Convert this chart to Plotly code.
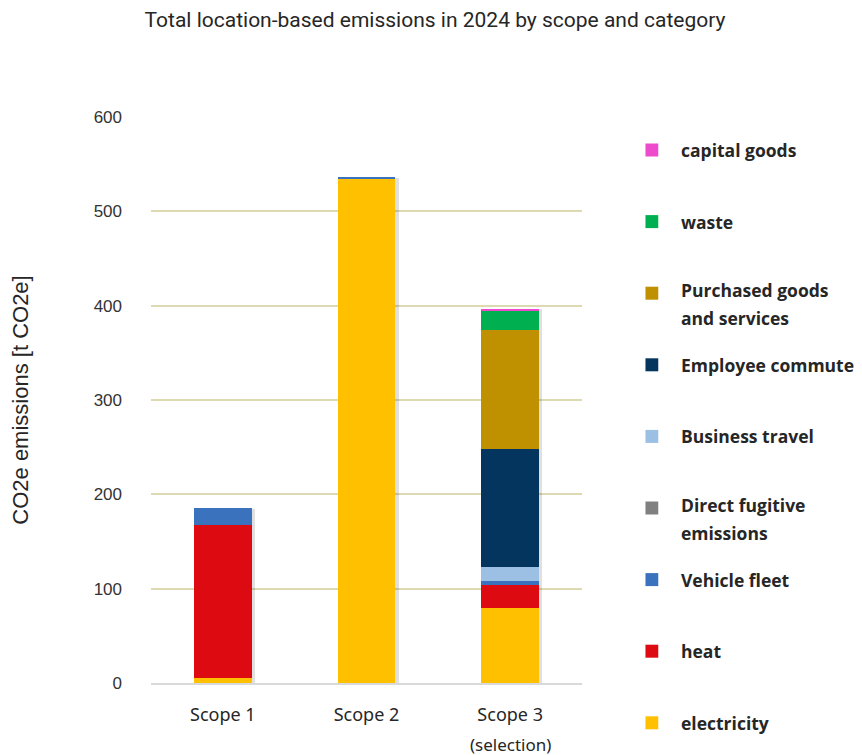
import plotly.graph_objects as go

categories = ["Scope 1", "Scope 2", "Scope 3"]

# stacked series (bottom to top)
series_names = [
    "electricity",
    "heat",
    "Vehicle fleet",
    "Direct fugitive emissions",
    "Business travel",
    "Employee commute",
    "Purchased goods and services",
    "waste",
    "capital goods",
]
legend_labels = [
    ["electricity"],
    ["heat"],
    ["Vehicle fleet"],
    ["Direct fugitive", "emissions"],
    ["Business travel"],
    ["Employee commute"],
    ["Purchased goods", "and services"],
    ["waste"],
    ["capital goods"],
]
series_colors = [
    "#FFC000", "#DD0A12", "#3A72BE", "#808080", "#9CBFE4",
    "#04355F", "#BF9000", "#00B050", "#EE4ACC",
]
electricity = [5, 535, 80]
heat = [163, 0, 24]
vehicle_fleet = [17, 1.5, 4]
direct_fugitive = [0, 0, 0]
business_travel = [0, 0, 15]
employee_commute = [0, 0, 125]
purchased_goods = [0, 0, 126]
waste = [0, 0, 20]
capital_goods = [0, 0, 3]
series_values = [electricity, heat, vehicle_fleet, direct_fugitive, business_travel,
                 employee_commute, purchased_goods, waste, capital_goods]

totals = [sum(v[i] for v in series_values) for i in range(len(categories))]

y_ticks = [0, 100, 200, 300, 400, 500, 600]

fig = go.Figure()

# soft shadow behind bars (main axes)
fig.add_trace(go.Bar(
    x=categories, y=[t + 1 for t in totals], base=-2,
    width=0.4, offset=-0.2 + 0.025,
    marker=dict(color="rgba(0,0,0,0.12)", line=dict(width=0)),
    hoverinfo="skip", showlegend=False, xaxis="x", yaxis="y",
))

for name, vals, col in zip(series_names, series_values, series_colors):
    fig.add_trace(go.Bar(
        x=categories, y=vals, name=name, width=0.4,
        marker=dict(color=col, line=dict(width=0)),
        xaxis="x2", yaxis="y2", showlegend=False,
    ))

# page body has an 8px margin: figure occupies 8..862 / 8..755
OFF = 8
W, H = 862 - OFF, 755 - OFF
L, R, T, B = 144 - OFF, 280, 117 - OFF, 72
plot_h = H - T - B
plot_w = W - L - R


def px_y(py):
    # page pixel y -> paper y
    return (H - B - (py - OFF)) / plot_h


def px_x(px):
    return (px - OFF - L) / plot_w


axis_common = dict(range=[-0.5, 2.5], type="category", categoryorder="array",
                   categoryarray=categories)
fig.update_layout(
    width=W, height=H,
    margin=dict(l=L, r=R, t=T, b=B, pad=0),
    paper_bgcolor="white", plot_bgcolor="white",
    barmode="stack", bargap=0.6,
    showlegend=False,
    title=dict(text="Total location-based emissions in 2024 by scope and category",
               x=0.5, xanchor="center", y=1 - (20 - OFF) / H, yanchor="middle",
               font=dict(family="Roboto", size=21, color="#262626")),
    xaxis=dict(**axis_common, showgrid=False, showline=True, linecolor="#D9D9D9",
               linewidth=1.5, ticks="", tickfont=dict(family="Noto Sans", size=18, color="#262626"),
               ticklabelstandoff=15),
    xaxis2=dict(**axis_common, overlaying="x", visible=False),
    yaxis=dict(range=[0, 600], tickvals=y_ticks, showgrid=True, gridcolor="#DDD9B0",
               gridwidth=1.5, zeroline=False, showline=False, ticks="",
               tickfont=dict(family="Liberation Sans", size=17, color="#333333"),
               ticklabelstandoff=28,
               title=dict(text="CO2e emissions [t CO2e]",
                          font=dict(family="Liberation Sans", size=22, color="#262626"),
                          standoff=58)),
    yaxis2=dict(range=[0, 600], overlaying="y", visible=False),
)

# "(selection)" under Scope 3
fig.add_annotation(x="Scope 3", xref="x", y=px_y(745), yref="paper",
                   text="(selection)", showarrow=False, yanchor="middle",
                   font=dict(family="Noto Sans", size=17, color="#262626"))

# custom legend (top to bottom = reverse of stack order)
marker_x = 653
text_x = 681
first_y = 150
step = 71.6
for i, idx in enumerate(reversed(range(len(series_names)))):
    py = first_y + i * step
    fig.add_shape(type="rect", xref="paper", yref="paper",
                  x0=px_x(marker_x - 6.5), x1=px_x(marker_x + 6.5),
                  y0=px_y(py + 6.5), y1=px_y(py - 6.5),
                  fillcolor=series_colors[idx], line=dict(width=0))
    lines = legend_labels[idx]
    y0 = py if len(lines) == 1 else py - 3
    for j, line in enumerate(lines):
        ly = y0 + j * 28
        fig.add_annotation(x=px_x(text_x), xref="paper", xanchor="left",
                           y=px_y(ly), yref="paper", yanchor="middle",
                           text="<b>" + line + "</b>", showarrow=False,
                           font=dict(family="Open Sans", size=17.5, color="#262626"))

fig.write_html("out.html")
